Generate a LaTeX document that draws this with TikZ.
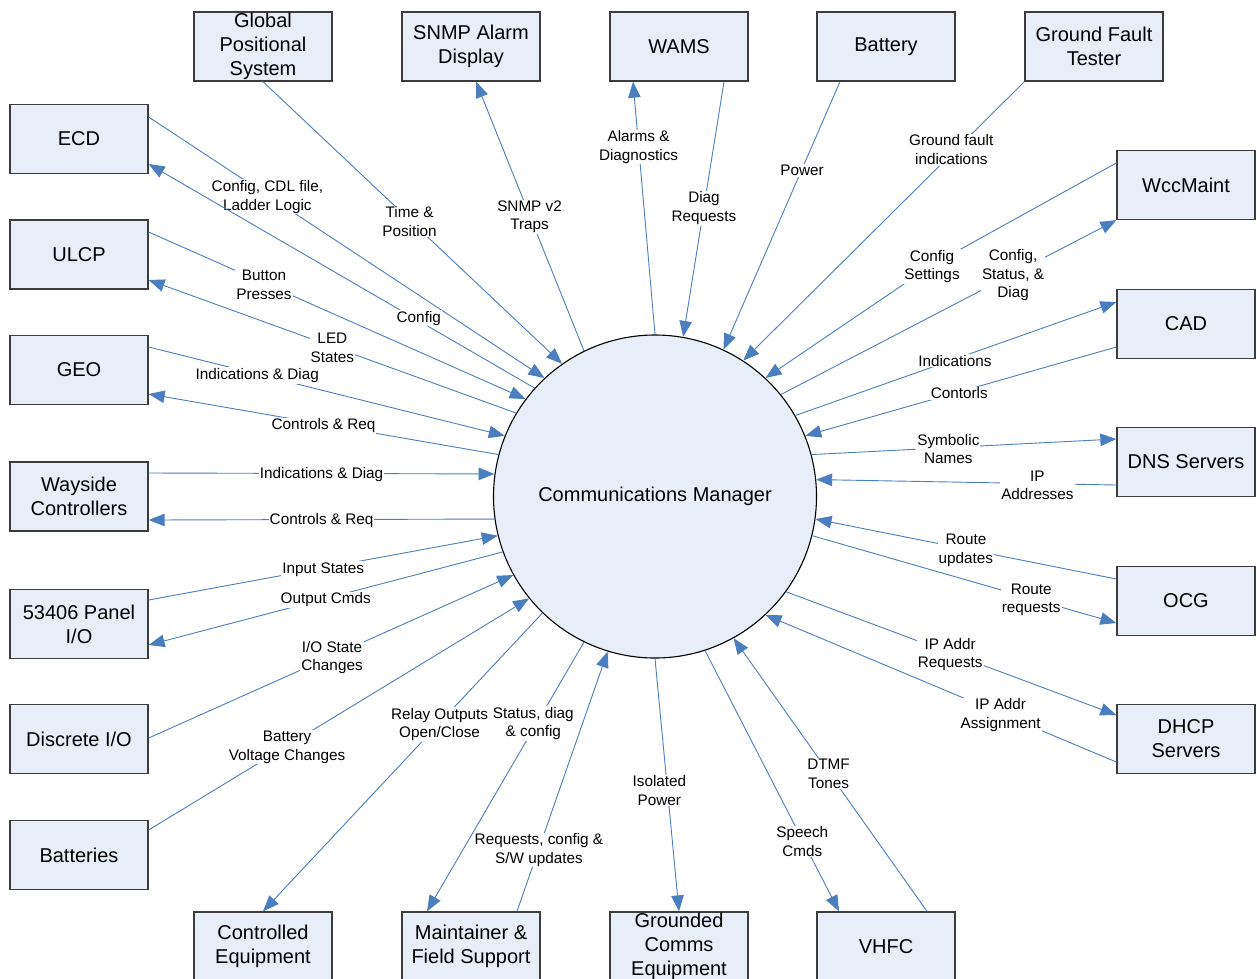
\documentclass[tikz,border=0pt]{standalone}
\usepackage{fontspec}
\setmainfont{Liberation Sans}
\usetikzlibrary{arrows.meta,calc}
\definecolor{linec}{RGB}{74,126,190}
\definecolor{boxfill}{RGB}{232,238,247}
\definecolor{boxdraw}{RGB}{60,60,60}
\tikzset{
  box/.style={draw=boxdraw, line width=1.3pt, fill=boxfill, minimum width=138pt, minimum height=69pt,
    inner sep=0pt, align=center, font=\fontsize{20}{24}\selectfont},
  cmcircle/.style={circle, draw=black, line width=1.1pt, fill=boxfill, minimum size=323pt, inner sep=0pt,
    font=\fontsize{20}{24}\selectfont},
  conn/.style={draw=linec, line width=0.9pt},
  arr/.style={-{Triangle[length=16pt,width=12.5pt,fill=linec]}},
  lbl/.style={fill=white, inner sep=1pt, align=center, text=black, yshift=-1.5pt,
    font=\fontsize{15.3}{18.5}\selectfont},
}
\begin{document}
\begin{tikzpicture}[x=1pt,y=-1pt]
\useasboundingbox (0,0) rectangle (1257,978);
% left column
\node[box] (ECD) at (79,139) {ECD};
\node[box] (ULCP) at (79,254.5) {ULCP};
\node[box] (GEO) at (79,370) {GEO};
\node[box] (WC) at (79,496.5) {Wayside\\Controllers};
\node[box] (P53) at (79,624) {53406 Panel\\I/O};
\node[box] (DIO) at (79,739) {Discrete I/O};
\node[box] (BATS) at (79,855) {Batteries};
% top row
\node[box] (GPS) at (263,46.5) {Global\\Positional\\System};
\node[box] (SNMP) at (471,46.5) {SNMP Alarm\\Display};
\node[box] (WAMS) at (679,46.5) {WAMS};
\node[box] (BAT) at (886,46.5) {Battery};
\node[box] (GFT) at (1094,46.5) {Ground Fault\\Tester};
% right column
\node[box] (WCC) at (1186,185) {WccMaint};
\node[box] (CAD) at (1186,324) {CAD};
\node[box] (DNS) at (1186,462) {DNS Servers};
\node[box] (OCG) at (1186,601) {OCG};
\node[box] (DHCP) at (1186,739) {DHCP\\Servers};
% bottom row
\node[box] (CE) at (263,946.5) {Controlled\\Equipment};
\node[box] (MFS) at (471,946.5) {Maintainer \&\\Field Support};
\node[box] (GCE) at (679,946.5) {Grounded\\Comms\\Equipment};
\node[box] (VHFC) at (886,946.5) {VHFC};
% centre
\node[cmcircle] (CM) at (655,496.5) {Communications Manager};
\coordinate (csbend) at (932,265);
% connectors
\draw[conn,arr] (GPS.south) -- node[lbl,pos=0.49]{Time \&\\Position} (CM.125.6);
\draw[conn,arr] ($(ECD.east)+(0,-22)$) -- node[lbl,pos=0.30]{Config, CDL file,\\Ladder Logic} (CM.133.1);
\draw[conn,arr] (CM.138.9) -- node[lbl,pos=0.30,yshift=4pt]{Config} ($(ECD.east)+(0,25)$);
\draw[conn,arr] ($(ULCP.east)+(0,-22.5)$) -- node[lbl,pos=0.306]{Button\\Presses} (CM.143.9);
\draw[conn,arr] (CM.149.8) -- node[lbl,pos=0.5]{LED\\States} ($(ULCP.east)+(0,25.5)$);
\draw[conn,arr] ($(GEO.east)+(0,-23)$) -- node[lbl,pos=0.305]{Indications \& Diag} (CM.158.0);
\draw[conn,arr] (CM.165.5) -- node[lbl,pos=0.5]{Controls \& Req} ($(GEO.east)+(0,24)$);
\draw[conn,arr] ($(WC.east)+(0,-23.5)$) -- node[lbl,pos=0.5]{Indications \& Diag} (CM.172.3);
\draw[conn,arr] (CM.188.4) -- node[lbl,pos=0.5]{Controls \& Req} ($(WC.east)+(0,23.5)$);
\draw[conn,arr] ($(P53.east)+(0,-24)$) -- node[lbl,pos=0.5]{Input States} (CM.194.5);
\draw[conn,arr] (CM.200.4) -- node[lbl,pos=0.5]{Output Cmds} ($(P53.east)+(0,21)$);
\draw[conn,arr] ($(DIO.east)+(0,-1)$) -- node[lbl,pos=0.503]{I/O State\\Changes} (CM.209.4);
\draw[conn,arr] ($(BATS.east)+(0,-25)$) -- node[lbl,pos=0.364]{Battery\\Voltage Changes} (CM.219.0);
\draw[conn,arr] (CM.226.1) -- node[lbl,pos=0.368]{Relay Outputs\\Open/Close} (CE.north);
\draw[conn,arr] (CM.244.8) -- node[lbl,pos=0.297,xshift=-4pt]{Status, diag\\\& config} ($(MFS.north)+(-44,0)$);
\draw[conn,arr] ($(MFS.north)+(46,0)$) -- node[lbl,pos=0.242]{Requests, config \&\\S/W updates} (CM.253.2);
\draw[conn,arr] (CM.270.4) -- node[lbl,pos=0.516,xshift=-8pt]{Isolated\\Power} (GCE.north);
\draw[conn,arr] (CM.288.8) -- node[lbl,pos=0.726]{Speech\\Cmds} ($(VHFC.north)+(-47,0)$);
\draw[conn,arr] ($(VHFC.north)+(41,0)$) -- node[lbl,pos=0.509]{DTMF\\Tones} (CM.299.0);
\draw[conn,arr] ($(DHCP.west)+(0,23)$) -- node[lbl,pos=0.33]{IP Addr\\Assignment} (CM.313.1);
\draw[conn,arr] (CM.324.4) -- node[lbl,pos=0.497]{IP Addr\\Requests} ($(DHCP.west)+(0,-24)$);
\draw[conn,arr] (CM.346.3) -- node[lbl,pos=0.72]{Route\\requests} ($(OCG.west)+(0,22)$);
\draw[conn,arr] ($(OCG.west)+(0,-22)$) -- node[lbl,pos=0.5]{Route\\updates} (CM.352.4);
\draw[conn,arr] ($(DNS.west)+(0,23)$) -- node[lbl,pos=0.263]{IP\\Addresses} (CM.6.2);
\draw[conn,arr] (CM.15.1) -- node[lbl,pos=0.449]{Symbolic\\Names} ($(DNS.west)+(0,-23)$);
\draw[conn,arr] ($(CAD.west)+(0,23)$) -- node[lbl,pos=0.505]{Contorls} (CM.22.2);
\draw[conn,arr] (CM.30.2) -- node[lbl,pos=0.497]{Indications} ($(CAD.west)+(0,-22)$);
\draw[conn,arr] (CM.39.9) -- node[lbl,pos=0.692]{Config,\\Status, \&\\Diag} (WCC.south west);
\draw[conn,arr] ($(WCC.west)+(0,-22)$) -- (csbend) node[lbl]{Config\\Settings} -- (CM.47.6);
\draw[conn,arr] (GFT.south west) -- node[lbl,pos=0.26,yshift=6pt]{Ground fault\\indications} (CM.57.9);
\draw[conn,arr] ($(BAT.south)+(-46,0)$) -- node[lbl,pos=0.325]{Power} (CM.65.9);
\draw[conn,arr] ($(WAMS.south)+(45,0)$) -- node[lbl,pos=0.49]{Diag\\Requests} (CM.80.5);
\draw[conn,arr] (CM.90) -- node[lbl,pos=0.747]{Alarms \&\\Diagnostics} ($(WAMS.south)+(-46,0)$);
\draw[conn,arr] (CM.116.5) -- node[lbl,pos=0.504]{SNMP v2\\Traps} ($(SNMP.south)+(5,0)$);
\end{tikzpicture}
\end{document}
